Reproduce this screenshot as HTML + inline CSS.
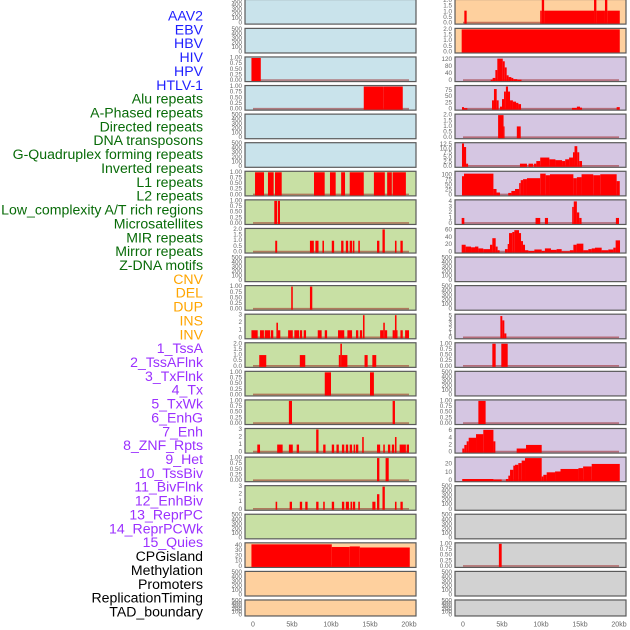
<!DOCTYPE html>
<html><head><meta charset="utf-8">
<style>
html,body{margin:0;padding:0;background:#fff;}
svg{display:block;font-family:"Liberation Sans",sans-serif;}
</style></head>
<body>
<svg id="chart" width="630" height="630" viewBox="0 0 630 630"></svg>
<script>
// ---------- data ----------
const labelNames=["AAV2","EBV","HBV","HIV","HPV","HTLV-1",
"Alu repeats","A-Phased repeats","Directed repeats","DNA transposons","G-Quadruplex forming repeats","Inverted repeats","L1 repeats","L2 repeats","Low_complexity A/T rich regions","Microsatellites","MIR repeats","Mirror repeats","Z-DNA motifs",
"CNV","DEL","DUP","INS","INV",
"1_TssA","2_TssAFlnk","3_TxFlnk","4_Tx","5_TxWk","6_EnhG","7_Enh","8_ZNF_Rpts","9_Het","10_TssBiv","11_BivFlnk","12_EnhBiv","13_ReprPC","14_ReprPCWk","15_Quies",
"CPGisland","Methylation","Promoters","ReplicationTiming","TAD_boundary"];
const labelGroups=[6,13,5,15,5];
const labelColors=["#1f1fff","#086b08","#ffa500","#9b30ff","#000000"];
const xTicks=[0,5,10,15,20];
const xTickLabels=["0","5kb","10kb","15kb","20kb"];

// left column tracks: [start kb, end kb, value]
const L0=[],L1=[];
const L2=[[-0.2,1.0,1]];
const L3=[[14.2,16.7,1],[16.7,19.2,1]];
const L4=[],L5=[];
const L6=[[0.26,1.41,1],[1.92,2.65,1],[2.82,3.68,1],[7.82,9.19,1],[9.87,10.6,1],[11.3,11.8,1],[12.4,14.2,1],[15.5,16.9,1],[17.2,17.8,1],[17.9,19.6,1]];
const L7=[[2.73,3.1,1],[3.2,3.46,1]];
const L8=[[2.85,3.1,1],[7.3,7.8,1],[8.0,8.4,1],[8.9,9.1,1],[10.1,10.4,1],[11.3,11.6,1],[11.9,12.2,1],[12.4,12.7,1],[12.8,13.0,1],[13.5,13.7,1],[15.9,16.2,1],[16.6,16.9,2],[18.2,18.4,1],[18.9,19.2,1]];
const L9=[];
const L10=[[4.9,5.1,1],[7.3,7.6,1]];
const L11=[[-0.2,0.6,1],[0.9,1.4,1],[1.5,2.2,1],[2.3,2.6,1],[3.0,3.2,2],[3.2,3.5,1],[4.5,5.1,1],[5.3,5.9,1],[6.0,6.3,1],[6.5,6.8,1],[8.3,8.8,1],[9.2,9.5,1],[10.9,11.7,1],[12.1,12.7,1],[13.2,13.5,1],[13.7,14.0,1],[14.1,14.3,3],[16.3,16.7,1],[16.7,16.9,2],[16.9,17.2,1],[17.9,18.2,1],[18.2,18.4,3],[18.4,18.5,1],[18.9,19.2,1],[19.5,20.0,1]];
const L12=[[0.8,1.7,1],[6.0,6.7,1],[11.0,11.2,1],[11.2,11.4,2],[11.4,12.1,1],[14.3,14.7,1],[15.3,15.8,1]];
const L13=[[9.2,10.0,1],[15.0,15.5,1]];
const L14=[[4.6,5.0,1],[17.9,18.2,1]];
const L15=[[0.55,0.9,1],[3.1,3.8,1],[4.6,5.1,1],[5.6,5.9,1],[8.1,8.4,3],[9.0,9.3,1],[10.1,10.4,1],[10.7,11.0,1],[11.4,11.7,1],[11.9,12.2,1],[12.4,12.7,1],[12.9,13.1,1],[13.2,13.5,1],[14.0,14.2,2],[15.9,16.3,1],[16.7,16.9,1],[17.3,17.6,1],[17.8,18.1,1],[18.2,18.4,2],[18.8,19.6,1],[19.7,20.0,1]];
const L16=[[15.9,16.2,1],[17.0,17.4,1]];
const L17=[[2.9,3.1,1],[4.7,5.0,1],[6.0,6.3,1],[6.7,7.0,1],[8.1,8.4,1],[9.0,9.2,1],[10.1,10.4,1],[11.4,11.7,1],[11.9,12.3,1],[12.5,12.7,1],[12.8,13.1,1],[13.5,13.7,1],[15.3,15.7,1],[15.9,16.2,2],[16.6,16.9,3],[18.2,18.4,1],[18.9,19.2,1]];
const L18=[];
const L19=[[-0.2,10.1,42],[10.1,12.4,37],[12.4,13.7,38],[13.7,20.1,36]];
const L20=[],L21=[];

// right column tracks
const R0=[[0.17,0.47,1.1],[9.9,10.1,1.1],[10.1,10.4,2.1],[10.4,16.8,1.1],[16.8,17.1,2.1],[17.1,18.2,1.1],[18.2,18.5,2.1],[18.5,20.1,1.1]];
const R1=[[-0.17,20.1,2.0]];
const R2=[[3.55,3.8,5],[3.8,4.15,15],[4.15,4.4,60],[4.4,5.1,125],[5.1,5.35,110],[5.35,5.6,75],[5.6,5.85,30],[5.85,6.2,20],[6.2,6.45,15],[6.45,6.96,8],[6.96,7.5,5]];
const R3=[[-0.13,0.13,8],[0.13,0.56,4],[3.72,3.97,35],[3.97,4.32,80],[4.32,4.57,35],[4.74,5.0,10],[5.0,5.26,40],[5.26,5.5,70],[5.5,5.77,90],[5.77,6.03,70],[6.03,6.4,35],[6.4,6.8,30],[6.8,7.1,25],[7.1,7.44,20],[13.97,14.6,5],[14.6,15.0,10],[15.0,15.26,6],[19.7,20.1,8]];
const R4=[[4.5,5.2,2],[5.2,5.3,1],[6.9,7.4,1]];
const R5=[[-0.13,0.13,13],[0.13,0.4,11],[0.4,0.65,1.5],[7.3,8.2,1.5],[8.4,9.0,1.5],[9.1,9.4,1.5],[9.4,9.9,3],[9.9,11.07,5],[11.07,11.85,4],[11.85,12.7,3.5],[12.7,13.1,3],[13.1,13.6,4],[13.6,14.1,5],[14.1,14.3,8],[14.3,14.65,11.5],[14.65,14.9,8],[14.9,15.26,3]];
const R6=[[-0.13,0.13,95],[0.13,3.9,108],[3.9,4.3,30],[4.3,4.74,12],[5.8,6.2,10],[6.2,6.67,20],[6.67,7.2,30],[7.2,7.4,60],[7.4,7.7,75],[7.7,8.2,80],[8.2,9.9,85],[9.9,10.6,108],[10.6,11.15,100],[11.15,14.15,105],[14.15,14.6,85],[14.6,15.2,90],[15.2,16.7,105],[16.7,17.6,100],[17.6,19.7,105],[19.7,20.1,70]];
const R7=[[-0.17,0.17,1],[9.3,9.9,1],[10.5,10.9,1],[14.0,14.2,3],[14.2,14.6,4],[14.6,14.9,2],[14.9,15.2,1],[19.6,20.0,1]];
const R8=[[-0.17,0.34,20],[0.34,1.03,15],[1.03,1.54,13],[1.54,1.97,15],[1.97,2.6,10],[2.6,3.46,8],[3.46,3.76,20],[3.76,4.19,38],[4.19,4.44,15],[4.44,4.7,5],[5.38,5.73,8],[5.73,5.9,22],[5.9,6.32,52],[6.32,6.58,55],[6.58,7.18,60],[7.18,7.44,52],[7.44,7.69,30],[7.69,7.95,20],[7.95,8.38,5],[8.38,9.15,3],[9.15,10.09,7],[10.09,10.5,3],[10.5,11.28,10],[11.28,12.0,6],[12.0,12.65,8],[12.65,13.7,2],[13.7,14.15,5],[14.15,14.57,20],[14.57,15.43,23],[15.43,16.07,5],[16.07,16.5,8],[16.5,16.92,10],[16.92,17.78,12],[17.78,18.63,5],[18.63,19.27,7],[19.27,19.57,12],[19.57,20.13,32]];
const R9=[],R10=[];
const R11=[[4.79,5.04,5],[5.04,5.3,4],[5.3,5.56,1]];
const R12=[[3.76,4.19,1],[4.91,5.73,1]];
const R13=[];
const R14=[[1.97,2.9,1]];
const R15=[[-0.09,0.17,1],[0.17,0.47,2],[0.47,0.73,3],[0.73,1.67,4],[1.67,2.6,5],[2.6,3.9,6.2],[3.9,4.15,3],[6.88,8.08,1],[8.08,10.09,2]];
const R16=[[-0.1,3.9,2],[3.9,4.96,1.5],[5.5,5.81,2],[5.81,6.03,6],[6.03,6.45,13],[6.45,6.67,18],[6.67,7.09,19],[7.09,7.52,21],[7.52,7.95,24],[7.95,10.09,27],[10.09,10.3,5],[10.3,10.73,7],[10.73,11.8,10],[11.8,12.5,11],[12.5,14.8,14],[14.8,15.4,15],[15.4,16.5,17],[16.5,20.1,20]];
const R17=[],R18=[];
const R19=[[4.6,4.96,1]];
const R20=[],R21=[];

const leftTracks=[L0,L1,L2,L3,L4,L5,L6,L7,L8,L9,L10,L11,L12,L13,L14,L15,L16,L17,L18,L19,L20,L21];
const rightTracks=[R0,R1,R2,R3,R4,R5,R6,R7,R8,R9,R10,R11,R12,R13,R14,R15,R16,R17,R18,R19,R20,R21];
const leftTickSet=["h","h","u","u","h","h","u","u","t","h","u","k","t","u","u","k","u","k","h","f","h","h"];
const rightTickSet=["t","t","c","s","t","d","q","g","x","h","h","v","u","h","u","e","w","h","h","u","h","h"];
const leftYMax=[500,500,1,1,500,500,1,1,2,500,1,3,2,1,1,3,1,3,500,43,500,500];
const rightYMax=[2,2,129,90,2,12.9,115,4.1,62,500,500,5.2,1,500,1,6.3,27,500,500,1,500,500];
const tickSets={
 h:[[0,"0"],[100,"100"],[200,"200"],[300,"300"],[400,"400"],[500,"500"]],
 u:[[0,"0.00"],[0.25,"0.25"],[0.5,"0.50"],[0.75,"0.75"],[1,"1.00"]],
 t:[[0,"0.0"],[0.5,"0.5"],[1,"1.0"],[1.5,"1.5"],[2,"2.0"]],
 k:[[0,"0"],[1,"1"],[2,"2"],[3,"3"]],
 f:[[0,"0"],[10,"10"],[20,"20"],[30,"30"],[40,"40"]],
 c:[[0,"0"],[40,"40"],[80,"80"],[120,"120"]],
 s:[[0,"0"],[25,"25"],[50,"50"],[75,"75"]],
 d:[[0,"0.0"],[2.5,"2.5"],[5,"5.0"],[7.5,"7.5"],[10,"10.0"],[12.5,"12.5"]],
 q:[[0,"0"],[25,"25"],[50,"50"],[75,"75"],[100,"100"]],
 g:[[0,"0"],[1,"1"],[2,"2"],[3,"3"],[4,"4"]],
 x:[[0,"0"],[20,"20"],[40,"40"],[60,"60"]],
 v:[[0,"0"],[1,"1"],[2,"2"],[3,"3"],[4,"4"],[5,"5"]],
 e:[[0,"0"],[2,"2"],[4,"4"],[6,"6"]],
 w:[[0,"0"],[10,"10"],[20,"20"]]
};
const leftBg=["b","b","b","b","b","b","g","g","g","g","g","g","g","g","g","g","g","g","g","o","o","o"];
const rightBg=["o","o","p","p","p","p","p","p","p","p","p","p","p","p","p","p","p","r","r","r","r","r"];
const bgColors={b:"#c9e3eb",g:"#c8e0a4",o:"#fed09e",p:"#d5c6e2",r:"#d2d2d2"};

// ---------- drawing ----------
const NS="http://www.w3.org/2000/svg";
const svg=document.getElementById("chart");
function mk(tag,attrs,parent){const e=document.createElementNS(NS,tag);for(const k in attrs)e.setAttribute(k,attrs[k]);(parent||svg).appendChild(e);return e;}
function rowTop(i){return i===0?-0.5:-0.2+28.58*i;}
function rowH(i){return i===21?16:24.6;}
function xScale(col,kb){return (col===0?253:463)+kb*7.8;}

let li=0;
labelGroups.forEach((n,g)=>{for(let k=0;k<n;k++){
  const t=mk("text",{x:203,y:15.5+li*13.86,"text-anchor":"end","dominant-baseline":"central","font-size":"14.1",fill:labelColors[g]});
  t.textContent=labelNames[li];
  
  
  li++;}});

function drawPanel(col,i,data,ts,ymax,bg){
  const bx=col===0?245:455, bw=171, top=rowTop(i), h=rowH(i);
  const g=mk("g",{});
  
  
  mk("rect",{x:bx,y:top,width:bw,height:h,fill:bgColors[bg],stroke:"#5a5a5a","stroke-width":1.2},g);
  const y0=top+h-1, span=h-2;
  const ys=v=>y0-v/ymax*span;
  tickSets[ts].forEach(([v,lab])=>{
    const t=mk("text",{x:bx-3,y:ys(v),"text-anchor":"end","dominant-baseline":"central","font-size":"6.3",fill:"#666"},g);
    t.textContent=lab;
    
    
  });
  if(data.length){
    const bl=mk("line",{x1:xScale(col,0),x2:xScale(col,20),y1:y0-0.5,y2:y0-0.5,stroke:"rgba(150,20,20,0.5)","stroke-width":1.6},g);
    
    
  }
  data.forEach(([s,e,v])=>{
    const x1=xScale(col,s),x2=xScale(col,e),yt=ys(v);
    const r=mk("rect",{x:x1,y:yt,width:Math.max(1,x2-x1),height:y0-yt+0.5,fill:"#ff0000"},g);
    
    
  });
}
for(let i=0;i<22;i++){
  drawPanel(0,i,leftTracks[i],leftTickSet[i],leftYMax[i],leftBg[i]);
  drawPanel(1,i,rightTracks[i],rightTickSet[i],rightYMax[i],rightBg[i]);
}
[0,1].forEach(col=>{
  xTicks.forEach((v,k)=>{
    const t=mk("text",{x:xScale(col,v),y:625,"text-anchor":"middle","dominant-baseline":"central","font-size":"7",fill:"#666"});
    t.textContent=xTickLabels[k];
    
    
  });
});
</script>
</body></html>
